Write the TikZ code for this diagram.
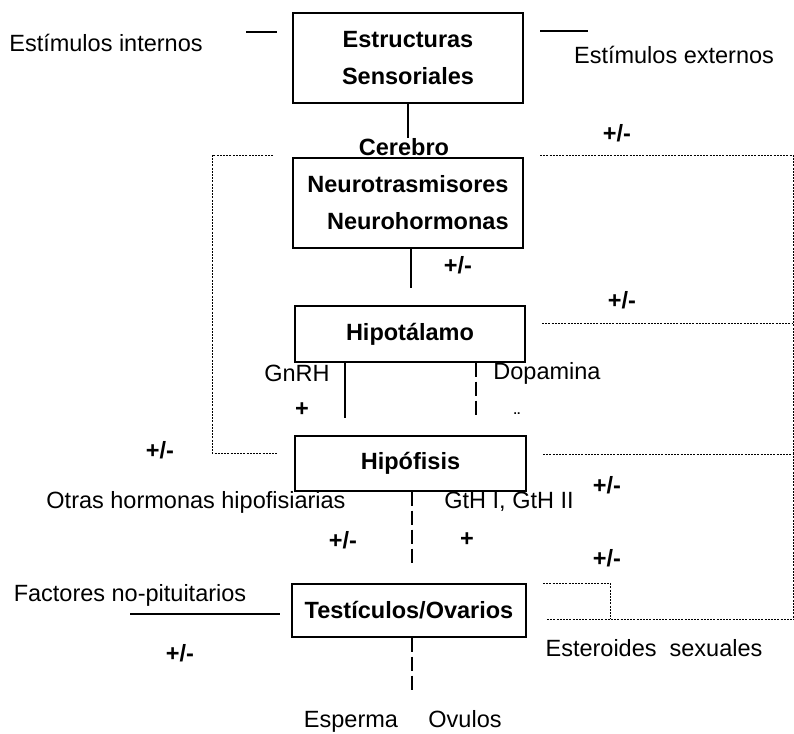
\documentclass[tikz,border=0pt]{standalone}
\usepackage{fontspec}
\setmainfont{Liberation Sans}
\usetikzlibrary{positioning}

\tikzset{
	box/.style={draw, line width=1.3pt, font=\fontsize{23.5}{37}\selectfont\bfseries, inner sep=0pt},
	lbl/.style={font=\fontsize{23.5}{28}\selectfont, inner sep=1pt},
	sign/.style={font=\fontsize{23.5}{28}\selectfont\bfseries, inner sep=1pt},
	fb/.style={line width=0.9pt, dash pattern=on 2pt off 1.2pt},
}

\begin{document}
	\begin{tikzpicture}[x=1pt, y=-1pt]
		\useasboundingbox (0,0) rectangle (794,733);

		% boxes
		\node [box, minimum width=230pt, minimum height=90pt, align=center] (sens) at (408,58) {Estructuras\\Sensoriales};
		\node [box, minimum width=230pt, minimum height=90pt, align=right] (neuro) at (408,203) {Neurotrasmisores\\Neurohormonas};
		\node [box, minimum width=230pt, minimum height=56pt] (hipot) at (410,334) {Hipotálamo};
		\node [box, minimum width=231pt, minimum height=55pt] (hipof) at (410.5,463.5) {Hipófisis};
		\node [box, minimum width=234pt, minimum height=53pt] (gonad) at (409,610.5) {Testículos/Ovarios};

		% texts
		\node [lbl] (intern) at (106,43) {Estímulos internos};
		\node [lbl] (extern) at (674,55) {Estímulos externos};
		\node [sign, inner sep=0pt, anchor=south] (cerebro) at (404,156) {Cerebro};
		\node [lbl] (gnrh) at (297,373) {GnRH};
		\node [lbl] (dopa) at (547,373) {Dopamina};
		\node [lbl] (otras) at (196,502) {Otras hormonas hipofisiarias};
		\node [lbl] (gth) at (509,502) {GtH I, GtH II};
		\node [lbl] (factores) at (130,595) {Factores no-pituitarios};
		\node [lbl] (esteroides) at (654,648) {Esteroides\ \ sexuales};
		\node [lbl, anchor=base] (esperma) at (351,727) {Esperma};
		\node [lbl, anchor=base] (ovulos) at (465,727) {Ovulos};

		\node [sign] (s1) at (617,133) {+/-};
		\node [sign] (s2) at (458,265) {+/-};
		\node [sign] (s3) at (622,300) {+/-};
		\node [sign] (s4) at (302,410) {+};
		\node [sign, font=\fontsize{12}{14}\selectfont\bfseries] (s5) at (517,414) {..};
		\node [sign] (s6) at (160,450) {+/-};
		\node [sign] (s7) at (607,485) {+/-};
		\node [sign] (s8) at (343,540) {+/-};
		\node [sign] (s9) at (467,540) {+};
		\node [sign] (s10) at (607,558) {+/-};
		\node [sign] (s11) at (180,653) {+/-};

		\coordinate (inL) at (246,32);
		\coordinate (inR) at (277,32);
		\coordinate (exL) at (540,31);
		\coordinate (exR) at (588,31);
		\coordinate (npL) at (130,614);
		\coordinate (npR) at (280,614);

		% solid links
		\begin{scope}[line width=1.3pt]
			\draw (inL) -- (inR);
			\draw (exL) -- (exR);
			\draw (npL) -- (npR);
			\draw (sens.south) -- (sens.south |- cerebro.north);
			\draw ([xshift=3pt]neuro.south) -- +(0,39);
			\draw ([xshift=-65pt]hipot.south) -- +(0,55);
		\end{scope}

		\begin{scope}[line width=1.1pt, dash pattern=on 14pt off 5pt]
			\draw ([xshift=66pt]hipot.south) -- +(0,55);
			\draw ([xshift=1.5pt]hipof.south) -- +(0,74);
			\draw ([xshift=3pt]gonad.south) -- +(0,56);
		\end{scope}

		% feedback loops
		\begin{scope}[fb]
			\draw (273,155) -- (212,155) -- (212,453) -- (277,453);
			\draw (540,155) -- (793,155) -- (793,619);
			\draw (542,323) -- (793,323);
			\draw (543,454) -- (793,454);
			\draw (543,583) -- (610,583) -- (610,619);
			\draw (547,619) -- (794,619);
		\end{scope}

	\end{tikzpicture}
\end{document}
